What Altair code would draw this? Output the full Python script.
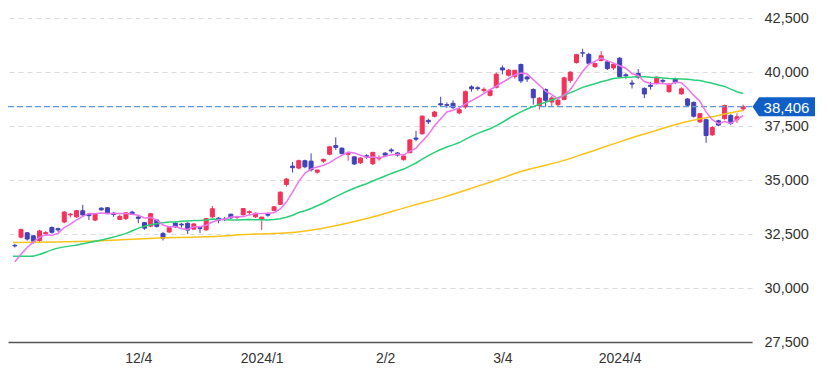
import altair as alt
import pandas as pd

# ---- daily candles (trading days 2023/11/2 .. 2024/4/30) ----
opens = [31980, 32360, 32560, 32420, 32200, 32520, 32800, 32750, 33060, 33390,
         33300, 33580, 33420, 33150, 33700, 33720, 33470, 33180, 33220, 33520,
         33290, 33030, 32870, 33150, 32530, 32600, 33010, 32960, 33000, 32730,
         32800, 32700, 33300, 33240, 33200, 33420, 33280, 33400, 33500, 33300,
         33200, 33420, 33600, 33880, 34800, 35650, 35560, 35900, 35880, 35370,
         35880, 36200, 36600, 36480, 36200, 36080, 35800, 36130, 35760, 35990,
         36250, 36400, 36260, 35950, 36270, 36950, 37150, 37770, 37960, 38540,
         38500, 38560, 38120, 38390, 39320, 39280, 39150, 38930, 39300, 40200,
         39860, 39800, 40360, 39780, 39200, 38450, 39200, 38620, 38500, 38740,
         39620, 40450, 40900, 40830, 40260, 40550, 40480, 40200, 40650, 39880,
         39500, 39950, 39250, 39400, 39500, 39620, 39100, 39700, 39000, 38760,
         38600, 37700, 37800, 37100, 37750, 37850, 38000, 37800, 38300]
highs = [32050, 32760, 32600, 32450, 32700, 32640, 32860, 32800, 33560, 33480,
         33620, 33853, 33460, 33480, 33750, 33750, 33520, 33400, 33500, 33580,
         33350, 33060, 33480, 33200, 32600, 32850, 33050, 33020, 33050, 33000,
         32850, 33250, 33800, 33280, 33290, 33450, 33350, 33700, 33600, 33500,
         33300, 33500, 33800, 34480, 35100, 35840, 35950, 35950, 36240, 35500,
         36000, 36560, 36984, 36520, 36300, 36100, 36060, 36200, 36300, 36150,
         36300, 36480, 36300, 36200, 36900, 37287, 38000, 37850, 38200, 38865,
         38600, 38700, 38350, 39160, 39400, 39350, 39300, 39200, 39990, 40314,
         40150, 40100, 40400, 39850, 39250, 38850, 39250, 38900, 38800, 39800,
         40050, 40850, 41087, 40900, 40450, 40980, 40550, 40400, 40700, 39950,
         39650, 40150, 39300, 39550, 39800, 39700, 39500, 39750, 39300, 38800,
         38650, 38100, 37850, 37500, 37800, 38500, 38050, 38100, 38500]
lows = [31880, 32300, 32200, 32060, 32100, 32430, 32520, 32600, 33000, 33270,
        33250, 33350, 33150, 33100, 33580, 33420, 33300, 33150, 33150, 33380,
        33000, 32700, 32820, 32800, 32205, 32550, 32780, 32800, 32500, 32700,
        32550, 32650, 33250, 33000, 33100, 33200, 33200, 33350, 33400, 33250,
        32693, 33300, 33550, 33850, 34700, 35350, 35500, 35550, 35400, 35300,
        35800, 36150, 36400, 36200, 35900, 35700, 35750, 35980, 35700, 35900,
        36100, 36250, 36100, 35900, 36250, 36800, 37100, 37600, 37900, 38400,
        38350, 38300, 38050, 38300, 39100, 39150, 39050, 38880, 39250, 39900,
        39800, 39700, 39500, 39550, 38500, 38270, 38400, 38400, 38400, 38700,
        39500, 40400, 40700, 40350, 40200, 40500, 40100, 40100, 39750, 39700,
        39250, 39700, 38800, 39200, 39450, 39500, 39050, 39450, 38950, 38400,
        37900, 37650, 36733, 37050, 37500, 37800, 37550, 37650, 38200]
closes = [31950, 32708, 32272, 32166, 32646, 32568, 32585, 32696, 33520, 33424,
          33585, 33388, 33354, 33452, 33626, 33448, 33408, 33321, 33487, 33432,
          33231, 32776, 33446, 32858, 32308, 32792, 32844, 32926, 32686, 32971,
          32759, 33219, 33676, 33140, 33169, 33254, 33306, 33681, 33540, 33464,
          33288, 33377, 33763, 34442, 35050, 35577, 35902, 35619, 35478, 35466,
          35963, 36547, 36518, 36226, 36236, 35751, 36027, 36066, 36287, 36011,
          36158, 36354, 36161, 36120, 36863, 36897, 37964, 37703, 38158, 38487,
          38470, 38364, 38262, 39099, 39234, 39240, 39208, 39166, 39911, 40109,
          40098, 40091, 39599, 39689, 38820, 38798, 38696, 38807, 38708, 39740,
          40004, 40816, 40888, 40414, 40398, 40763, 40168, 40369, 39803, 39839,
          39452, 39773, 38992, 39347, 39773, 39582, 39443, 39524, 39233, 38471,
          37962, 38080, 37068, 37439, 37552, 38460, 37628, 37935, 38406]
# closes of the four sessions before the first candle (feed the 5-day average)
prior_closes = [30992, 30697, 30859, 31602]

# early parts of the 25-day and 75-day averages
ma25_early_idx = [-0.3, 2.5, 6.8, 10.5, 14, 18, 20.5, 24]
ma25_early_val = [31470, 31468, 31838, 32023, 32222, 32532, 32824, 33026]
ma75_early_idx = [-0.3, 6.8, 14.1, 21.6, 30.6, 39, 44.3, 49.7, 54.9, 58.1, 64.4, 69.2, 74]
ma75_early_val = [32116, 32130, 32190, 32301, 32375, 32500, 32560, 32764, 33069, 33301, 33820, 34190, 34626]

tick_idx = [20, 40, 60, 79, 98]
tick_labels = ["12/4", "2024/1", "2/2", "3/4", "2024/4"]
y_ticks = [27500, 30000, 32500, 35000, 37500, 40000, 42500]

UP = "#f2325a"
DOWN = "#4141b9"
MA5_C = "#ee74ee"
MA25_C = "#2bcf78"
MA75_C = "#f9c31a"
PRICE_LINE = "#5d9cdc"
BADGE = "#0f5fc6"
FONT = "Liberation Sans"

n = len(closes)
candles = pd.DataFrame({"i": list(range(n)), "o": opens, "h": highs, "l": lows, "c": closes})

xs = alt.Scale(domain=[-0.3, 118.63], nice=False, zero=False)
ys = alt.Scale(domain=[27500, 42977], nice=False, zero=False)

label_expr = " : ".join(f"datum.value == {i} ? '{t}'" for i, t in zip(tick_idx, tick_labels)) + " : ''"

x_axis = alt.Axis(values=tick_idx, labelExpr=label_expr, grid=False, ticks=False,
                  domain=True, domainColor="#555555", domainWidth=1.5,
                  labelFont=FONT, labelFontSize=14, labelColor="#333333",
                  labelPadding=9, title=None)
y_axis = alt.Axis(orient="right", values=y_ticks, labelExpr="format(datum.value, ',.0f')",
                  grid=True, gridColor="#dcdcdc", gridDash=[5, 4], gridWidth=1,
                  domain=False, ticks=False, labelFont=FONT, labelFontSize=14.5,
                  labelColor="#333333", labelPadding=12, title=None)

dir_scale = alt.Scale(domain=["up", "down"], range=[UP, DOWN])


def X(field):
    return alt.X(field, scale=xs, axis=x_axis, title=None)


def Y(field):
    return alt.Y(field, scale=ys, axis=y_axis, title=None)


base = alt.Chart(candles).transform_calculate(dir="datum.c >= datum.o ? 'up' : 'down'")

wicks = base.mark_rule(strokeWidth=1).encode(
    x=X("i:Q"), y=Y("l:Q"), y2="h:Q",
    color=alt.Color("dir:N", scale=dir_scale, legend=None),
)
bodies = base.mark_bar(size=4, strokeWidth=1).encode(
    x=X("i:Q"), y=Y("o:Q"), y2="c:Q",
    color=alt.Color("dir:N", scale=dir_scale, legend=None),
    stroke=alt.Stroke("dir:N", scale=dir_scale, legend=None),
)

last = pd.DataFrame({"p": [closes[-1]], "t": [f"{closes[-1]:,}"]})
price_rule = alt.Chart(last).mark_rule(color=PRICE_LINE, strokeDash=[6, 3], strokeWidth=1.3).encode(
    y=Y("p:Q")
)

# 5-day moving average
df5 = pd.DataFrame({"i": list(range(-len(prior_closes), n)), "c": prior_closes + closes})
ma5 = (alt.Chart(df5)
       .transform_window(ma="mean(c)", frame=[-4, 0], sort=[alt.SortField("i")])
       .transform_filter("datum.i >= 0")
       .mark_line(color=MA5_C, strokeWidth=1.5)
       .encode(x=X("i:Q"), y=Y("ma:Q")))

closes_df = pd.DataFrame({"i": list(range(n)), "c": closes})

ma25_early = alt.Chart(pd.DataFrame({"i": ma25_early_idx, "v": ma25_early_val})).mark_line(
    color=MA25_C, strokeWidth=1.5, interpolate="monotone").encode(x=X("i:Q"), y=Y("v:Q"))
ma25_late = (alt.Chart(closes_df)
             .transform_window(ma="mean(c)", frame=[-24, 0], sort=[alt.SortField("i")])
             .transform_filter("datum.i >= 24")
             .mark_line(color=MA25_C, strokeWidth=1.5)
             .encode(x=X("i:Q"), y=Y("ma:Q")))

ma75_early = alt.Chart(pd.DataFrame({"i": ma75_early_idx, "v": ma75_early_val})).mark_line(
    color=MA75_C, strokeWidth=1.5, interpolate="monotone").encode(x=X("i:Q"), y=Y("v:Q"))
ma75_late = (alt.Chart(closes_df)
             .transform_window(ma="mean(c)", frame=[-74, 0], sort=[alt.SortField("i")])
             .transform_filter("datum.i >= 74")
             .mark_line(color=MA75_C, strokeWidth=1.5)
             .encode(x=X("i:Q"), y=Y("ma:Q")))

# current-price tag on the right axis
tag_path = "M -1 0 L -0.792 -0.304 L 1 -0.304 L 1 0.304 L -0.792 0.304 Z"
badge = alt.Chart(last).mark_point(shape=tag_path, size=3906, filled=True, fill=BADGE,
                                   opacity=1, strokeWidth=0).encode(
    x=alt.value(775.75), y=Y("p:Q"))
badge_text = alt.Chart(last).mark_text(color="white", fontSize=15, font=FONT,
                                       align="center", baseline="middle", dy=1).encode(
    x=alt.value(778.5), y=Y("p:Q"), text="t:N")

chart = alt.layer(
    wicks, bodies, price_rule, ma75_early, ma75_late, ma25_early, ma25_late, ma5, badge, badge_text
).properties(
    width=744, height=334,
    padding={"left": 0, "top": 0, "right": 70, "bottom": 24},
    autosize=alt.AutoSizeParams(type="none"),
    background="white",
).configure_view(stroke=None)

chart.save("out.html", embed_options={"renderer": "svg", "actions": False})
